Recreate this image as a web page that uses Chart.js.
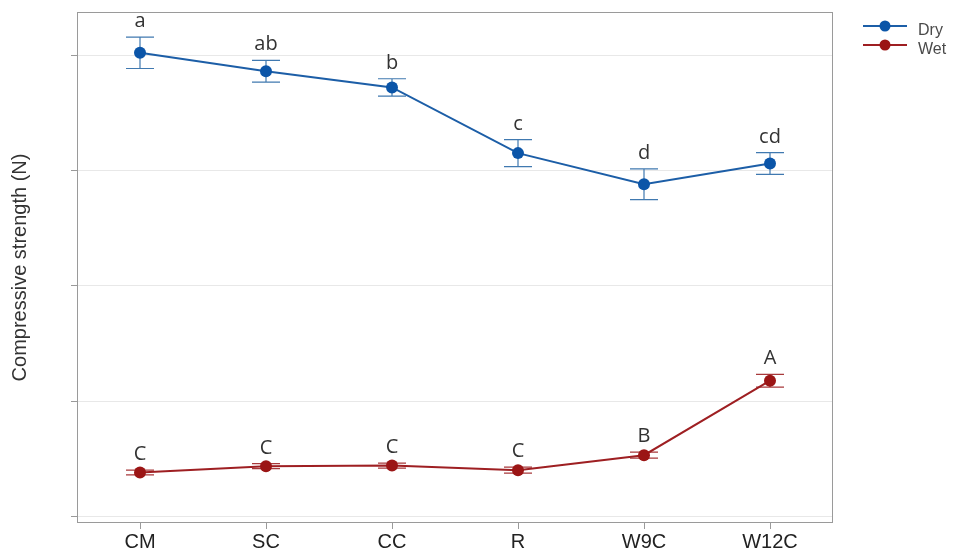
<!DOCTYPE html>
<html>
<head>
<meta charset="utf-8">
<script src="https://cdn.jsdelivr.net/npm/chart.js@4"></script>
<style>
  html, body { margin: 0; padding: 0; background: #ffffff; }
  #wrap { width: 954px; height: 556px; }
</style>
</head>
<body>
<div id="wrap"><canvas id="strength" width="954" height="556"></canvas></div>
<script>
/* compressive strength, dry vs wet, mean ± error, letters = significance groups */

const categories = ['CM', 'SC', 'CC', 'R', 'W9C', 'W12C'];

const dryMean = [402, 386, 372, 315, 288, 306];
const dryErr  = [13.6, 9.4, 7.5, 11.7, 13.4, 9.4];
const dryLetters = ['a', 'ab', 'b', 'c', 'd', 'cd'];

const wetMean = [38, 43.5, 44, 40, 53, 117.6];
const wetErr  = [2, 2.2, 2.2, 2.6, 2.6, 5.5];
const wetLetters = ['C', 'C', 'C', 'C', 'B', 'A'];

const yTicks = [0, 100, 200, 300, 400];

(function () {
  const canvas = document.getElementById('strength');
  if (!canvas || typeof Chart === 'undefined') return;

  const colors = {
    dryLine:  '#1c5ea7',
    dryPoint: '#0b55a8',
    dryErr:   '#4079b0',
    wetLine:  '#9e1f22',
    wetPoint: '#9b1515',
    wetErr:   '#a8393b',
    grid:     '#e8e8e8',
    frame:    '#9a9a9a',
    text:     '#222222',
    title:    '#333333',
    letter:   '#333333',
    legend:   '#4a4a4a'
  };

  const series = [
    { label: 'Dry', mean: dryMean, err: dryErr, letters: dryLetters,
      line: colors.dryLine, point: colors.dryPoint, errColor: colors.dryErr },
    { label: 'Wet', mean: wetMean, err: wetErr, letters: wetLetters,
      line: colors.wetLine, point: colors.wetPoint, errColor: colors.wetErr }
  ];

  /* error bars under the points, frame + letters + legend on top */
  const decor = {
    id: 'decor',
    beforeDatasetsDraw(chart) {
      const { ctx, scales: { x, y } } = chart;
      ctx.save();
      ctx.lineWidth = 1.2;
      series.forEach(s => {
        ctx.strokeStyle = s.errColor;
        s.mean.forEach((m, i) => {
          const px = x.getPixelForValue(i);
          const top = y.getPixelForValue(m + s.err[i]);
          const bot = y.getPixelForValue(m - s.err[i]);
          ctx.beginPath();
          ctx.moveTo(px, top); ctx.lineTo(px, bot);
          ctx.moveTo(px - 14, top); ctx.lineTo(px + 14, top);
          ctx.moveTo(px - 14, bot); ctx.lineTo(px + 14, bot);
          ctx.stroke();
        });
      });
      ctx.restore();
    },
    afterDraw(chart) {
      const { ctx, chartArea: a, scales: { x, y } } = chart;
      ctx.save();

      // panel frame
      ctx.strokeStyle = colors.frame;
      ctx.lineWidth = 1;
      ctx.strokeRect(a.left + 0.5, a.top + 0.5, a.right - a.left - 1, a.bottom - a.top - 1);

      // group letters above the error bars
      ctx.fillStyle = colors.letter;
      ctx.font = '20px "Open Sans", sans-serif';
      ctx.textAlign = 'center';
      ctx.textBaseline = 'alphabetic';
      series.forEach(s => {
        s.mean.forEach((m, i) => {
          const px = x.getPixelForValue(i);
          const top = y.getPixelForValue(m + s.err[i]);
          ctx.fillText(s.letters[i], px, top - 10);
        });
      });

      // legend
      const lx = a.right + 30;
      ctx.font = '16px "Liberation Sans", Arial, sans-serif';
      ctx.textAlign = 'left';
      series.forEach((s, k) => {
        const ly = 26 + k * 19;
        ctx.strokeStyle = s.line;
        ctx.lineWidth = 2;
        ctx.beginPath();
        ctx.moveTo(lx, ly); ctx.lineTo(lx + 44, ly);
        ctx.stroke();
        ctx.fillStyle = s.point;
        ctx.beginPath();
        ctx.arc(lx + 22, ly, 5.5, 0, Math.PI * 2);
        ctx.fill();
        ctx.fillStyle = colors.legend;
        ctx.fillText(s.label, lx + 55, ly + 9);
      });

      ctx.restore();
    }
  };

  Chart.defaults.font.family = '"Liberation Sans", Arial, sans-serif';

  new Chart(canvas, {
    type: 'line',
    data: {
      labels: categories,
      datasets: series.map(s => ({
        label: s.label,
        data: s.mean,
        borderColor: s.line,
        borderWidth: 2,
        pointRadius: 6,
        pointHoverRadius: 6,
        pointBorderWidth: 0,
        pointBackgroundColor: s.point,
        tension: 0,
        fill: false
      }))
    },
    options: {
      responsive: false,
      animation: false,
      layout: { padding: { top: 12, right: 121, bottom: 0, left: 0 } },
      plugins: {
        legend: { display: false },
        tooltip: { enabled: false }
      },
      scales: {
        x: {
          type: 'category',
          offset: true,
          grid: {
            drawOnChartArea: false,
            drawTicks: true,
            tickLength: 6,
            tickColor: colors.frame
          },
          border: { display: false },
          ticks: {
            color: colors.text,
            font: { size: 20 },
            padding: 1,
            maxRotation: 0
          },
          afterFit: s => { s.height = 33; }
        },
        y: {
          min: -5.8,
          max: 437.4,
          afterBuildTicks: s => { s.ticks = yTicks.map(v => ({ value: v })); },
          grid: {
            color: colors.grid,
            drawTicks: true,
            tickLength: 6,
            tickColor: colors.frame
          },
          border: { display: false },
          ticks: { display: false },
          title: {
            display: true,
            text: 'Compressive strength (N)',
            color: colors.title,
            font: { size: 20 },
            padding: { top: 8, bottom: 0 }
          },
          afterFit: s => { s.width = 77; }
        }
      }
    },
    plugins: [decor]
  });
})();
</script>
</body>
</html>
